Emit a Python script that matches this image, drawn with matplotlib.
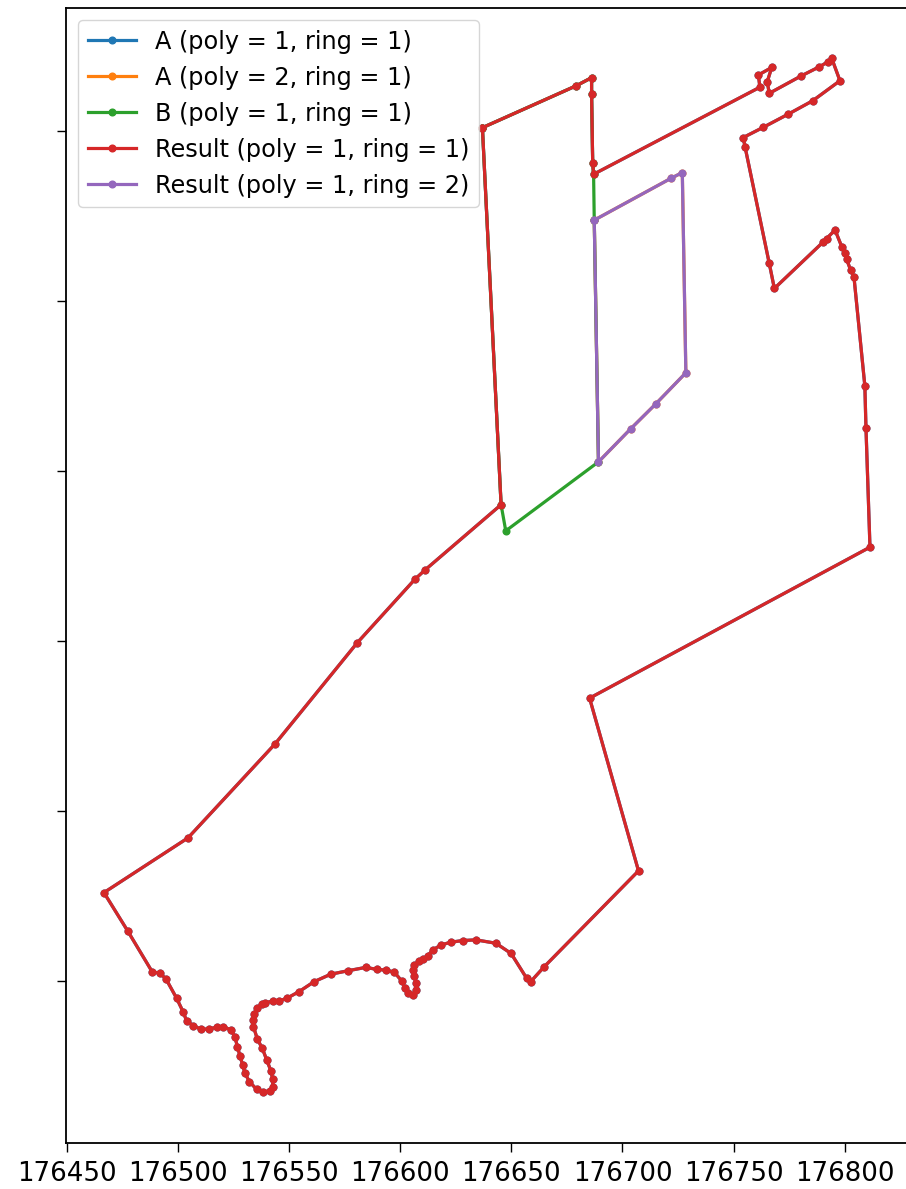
import matplotlib
matplotlib.use("Agg")
import matplotlib.pyplot as plt

# Result (poly = 1, ring = 1) - outer ring
res1_x = [176637.0, 176679.1, 176686.1, 176686.1, 176686.6, 176687.0, 176761.8, 176761.1,
          176767.1, 176765.1, 176766.0, 176780.3, 176788.5, 176792.5, 176794.1, 176797.8,
          176785.5, 176774.6, 176763.3, 176754.3, 176755.1, 176766.0, 176768.3, 176790.3,
          176791.8, 176795.6, 176798.6, 176800.1, 176800.8, 176802.6, 176804.1, 176809.0,
          176809.5, 176811.3, 176685.2, 176707.2, 176664.8, 176658.7, 176656.9, 176649.9,
          176643.1, 176634.1, 176628.1, 176622.7, 176618.4, 176614.6, 176612.4, 176610.4,
          176608.6, 176606.4, 176605.9, 176606.4, 176607.1, 176607.1, 176605.6, 176603.7,
          176602.2, 176600.7, 176597.4, 176593.6, 176589.7, 176584.5, 176576.4, 176568.8,
          176561.3, 176554.6, 176549.0, 176545.5, 176542.7, 176539.2, 176537.7, 176535.5,
          176534.3, 176534.0, 176534.0, 176535.8, 176538.0, 176540.0, 176541.9, 176542.7,
          176542.7, 176541.5, 176538.5, 176535.5, 176532.2, 176530.2, 176529.2, 176528.0,
          176526.8, 176525.7, 176523.8, 176520.5, 176517.5, 176514.0, 176510.4, 176507.0,
          176504.0, 176502.5, 176499.5, 176494.7, 176492.0, 176488.5, 176477.5, 176466.8,
          176504.6, 176543.7, 176580.6, 176606.7, 176611.2, 176645.4, 176637.0]
res1_y = [301.0, 313.3, 315.7, 310.9, 290.5, 287.3, 312.9, 316.5,
          318.7, 314.5, 311.1, 316.2, 318.9, 320.4, 321.4, 314.8,
          308.9, 305.0, 301.1, 298.1, 295.4, 261.1, 253.7, 267.4,
          268.4, 270.9, 266.0, 264.1, 262.3, 259.1, 257.1, 225.0,
          212.6, 177.6, 133.2, 82.4, 54.2, 49.8, 50.8, 58.1,
          61.1, 62.1, 61.9, 61.4, 60.6, 59.1, 57.4, 56.4,
          56.0, 54.7, 53.2, 51.5, 49.3, 47.4, 45.9, 46.4,
          47.9, 50.0, 52.6, 53.2, 53.4, 54.0, 53.0, 52.0,
          49.8, 46.9, 44.9, 44.1, 44.1, 43.6, 43.2, 42.0,
          40.2, 38.5, 36.6, 32.9, 30.2, 26.8, 23.5, 21.1,
          18.9, 17.7, 17.4, 18.1, 20.4, 22.9, 25.3, 27.9,
          30.7, 33.6, 35.6, 36.6, 36.4, 35.9, 35.8, 36.9,
          38.2, 40.8, 44.9, 50.6, 52.3, 52.7, 64.7, 76.0,
          92.1, 119.7, 149.4, 168.2, 170.9, 190.1, 301.0]

# Result (poly = 1, ring = 2) - hole
res2_x = [176687.3, 176721.8, 176726.9, 176728.5, 176714.9, 176703.8, 176689.2, 176687.3]
res2_y = [273.8, 286.1, 287.8, 228.9, 219.7, 212.5, 202.7, 273.8]

# B (poly = 1, ring = 1)
b_x = [176637.0, 176645.4, 176647.5, 176689.2, 176687.3, 176687.0, 176686.6, 176686.1,
       176686.1, 176679.1, 176637.0]
b_y = [301.0, 190.1, 182.4, 202.7, 273.8, 287.3, 290.5, 310.9,
       315.7, 313.3, 301.0]

# A (poly = 1, ring = 1) and A (poly = 2, ring = 1) - hidden beneath the result
a1_x = list(res1_x)
a1_y = list(res1_y)
a2_x = list(res2_x)
a2_y = list(res2_y)

x_ticks = [176450, 176500, 176550, 176600, 176650, 176700, 176750, 176800]
y_ticks = [50, 100, 150, 200, 250, 300]

series = [
    (a1_x, a1_y, "#1f77b4", "A (poly = 1, ring = 1)"),
    (a2_x, a2_y, "#ff7f0e", "A (poly = 2, ring = 1)"),
    (b_x, b_y, "#2ca02c", "B (poly = 1, ring = 1)"),
    (res1_x, res1_y, "#d62728", "Result (poly = 1, ring = 1)"),
    (res2_x, res2_y, "#9467bd", "Result (poly = 1, ring = 2)"),
]

fig = plt.figure(figsize=(9.06, 11.89), dpi=100)
ax = fig.add_axes([66 / 906, (1189 - 1143) / 1189, (912 - 66) / 906, (1143 - 8) / 1189])

for xs, ys, c, lab in series:
    ax.plot(xs, ys, "-o", color=c, lw=2.3, ms=4.8, label=lab)

ax.set_xlim(176449.73, 176830.2)
ax.set_ylim(2.35, 336.2)
ax.set_xticks(x_ticks)
ax.set_xticklabels([str(v) for v in x_ticks])
ax.set_yticks(y_ticks)
ax.set_yticklabels([""] * len(y_ticks))
ax.tick_params(axis="both", length=6.7, width=1.0, labelsize=18.7, pad=6.5)
for s in ax.spines.values():
    s.set_linewidth(1.3)

ax.legend(loc="upper left", fontsize=17.3)

fig.savefig("out.png", dpi=100)
